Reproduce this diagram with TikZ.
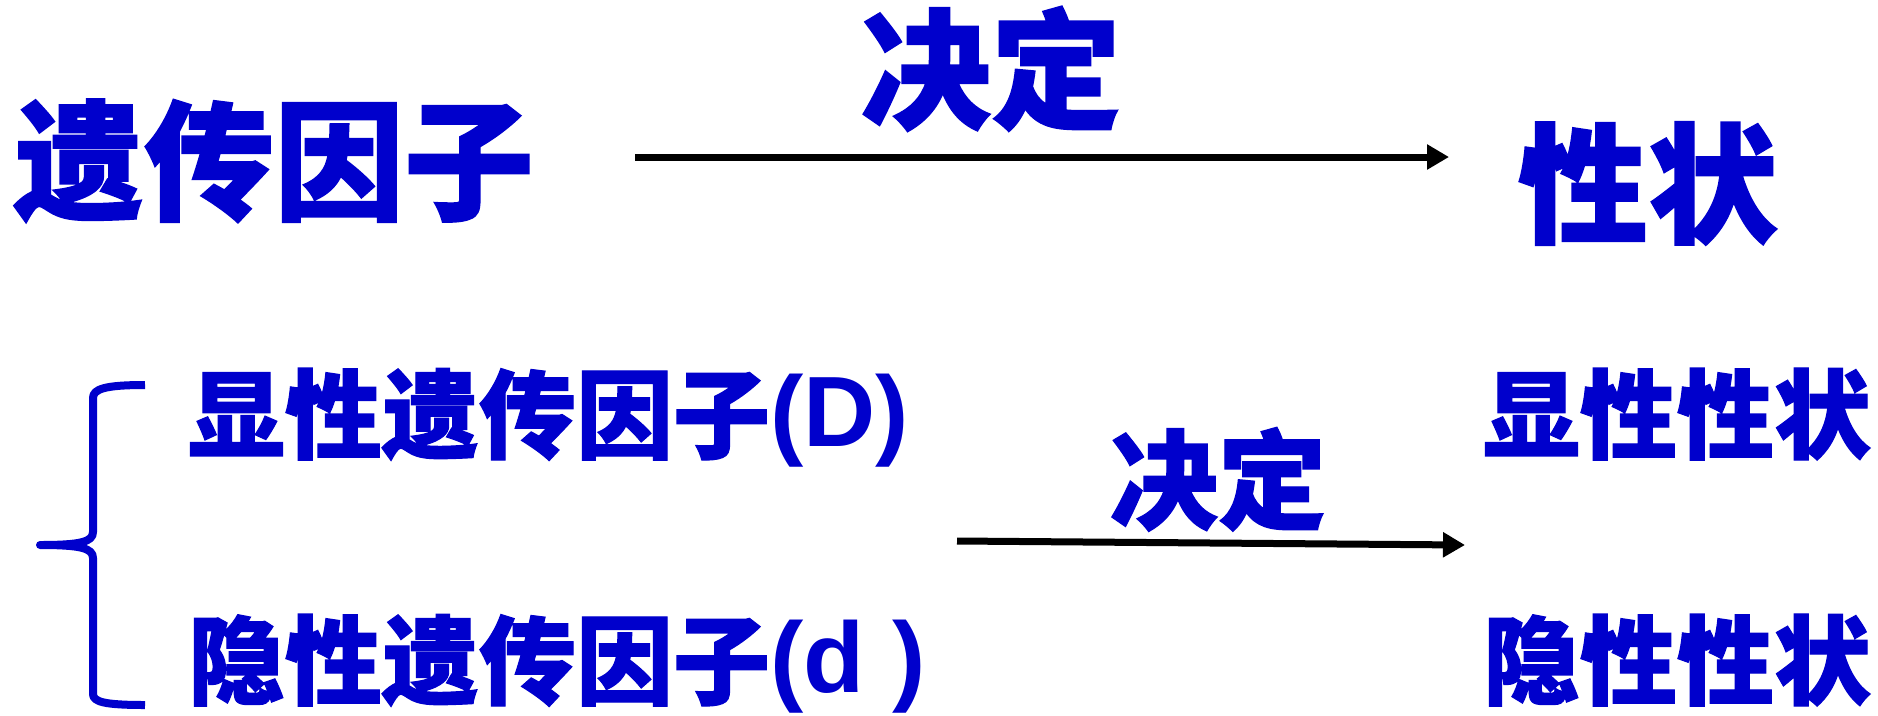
\documentclass[tikz,border=0pt]{standalone}
\usepackage{fontspec}
\usetikzlibrary{arrows.meta}
\newfontfamily\cjk{Noto Sans CJK SC}[FakeBold=1.2]
\newfontfamily\lat{Liberation Sans}
\definecolor{txtblue}{RGB}{0,0,204}
\newcommand{\cj}[2]{{\cjk\bfseries\fontsize{#1}{#1}\selectfont #2}}
\newcommand{\lt}[3]{\raisebox{#2}{\lat\bfseries\fontsize{#1}{#1}\selectfont #3}}
\begin{document}
\begin{tikzpicture}[x=1pt,y=-1pt,
  lbl/.style={inner sep=0pt,outer sep=0pt,text=txtblue,anchor=base},
  lblw/.style={lbl,anchor=base west},
  arr/.style={line width=7pt,-{Triangle[length=22pt,width=24pt]}},
  brace/.style={draw=txtblue,line width=8pt,line cap=butt,line join=round}]
\useasboundingbox (0,0) rectangle (1878,715);
% top row
\node[lbl] (gene) at (274,210) {\cj{130}{遗传因子}};
\node[lbl] (jd1) at (991,119) {\cj{130}{决定}};
\node[lbl] (trait) at (1648,233) {\cj{130}{性状}};
\coordinate (a1s) at (635,157);
\coordinate (a1e) at (1449,157);
\draw[arr] (a1s) -- (a1e);
% bottom rows
\node[lblw] (dom) at (188,451) {\cj{97}{显性遗传因子}\lt{100}{5pt}{(D)}};
\node[lblw] (rec) at (188,697) {\cj{97}{隐性遗传因子}\lt{100}{5pt}{(d )}};
\node[lbl] (jd2) at (1218,521) {\cj{108}{决定}};
\node[lbl] (domt) at (1677,451) {\cj{97}{显性性状}};
\node[lbl] (rect) at (1677,697) {\cj{97}{隐性性状}};
\coordinate (a2s) at (957,541);
\coordinate (a2e) at (1465,545);
\draw[arr] (a2s) -- (a2e);
% brace
\draw[brace] (145,385) .. controls (105,385) and (93,389) .. (93,398)
  -- (93,532) .. controls (93,542) and (80,545) .. (40,545)
  .. controls (80,545) and (93,548) .. (93,558)
  -- (93,694) .. controls (93,702) and (105,705) .. (145,705);
\end{tikzpicture}
\end{document}
